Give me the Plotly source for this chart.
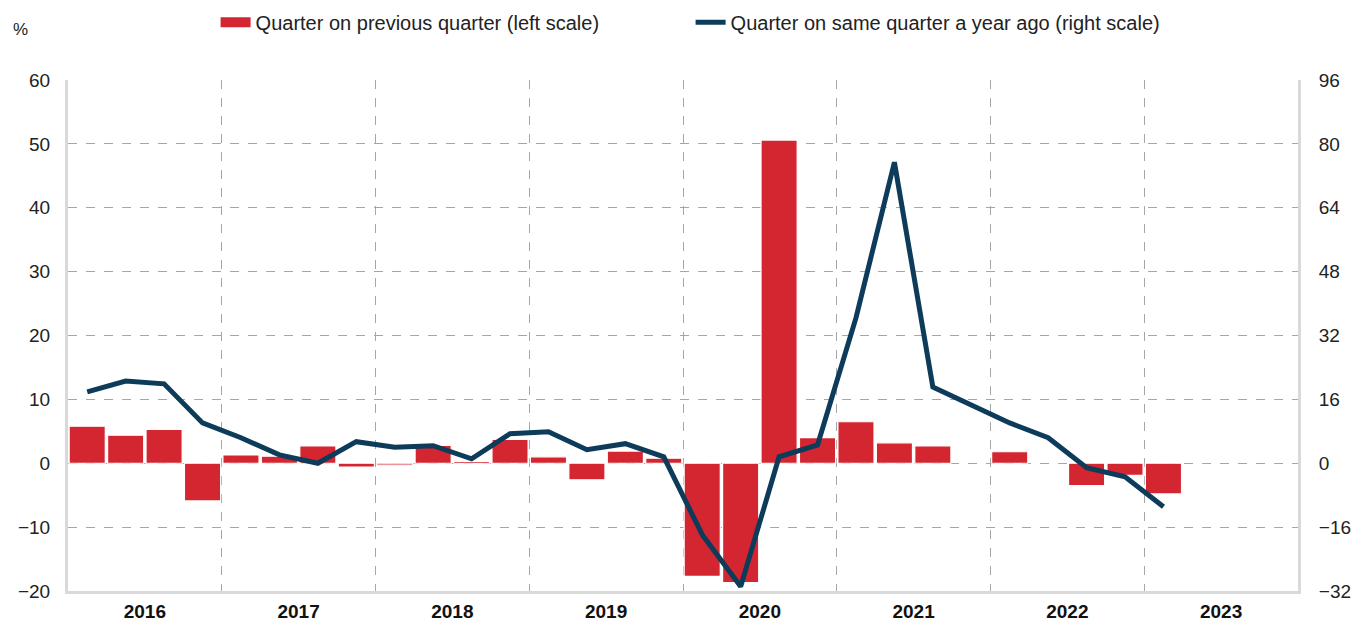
import plotly.graph_objects as go

years = ["2016", "2017", "2018", "2019", "2020", "2021", "2022", "2023"]
quarters_per_year = 4

# Quarter on previous quarter (%), left scale; None = no bar
qoq = [5.8, 4.4, 5.3, -5.9,
       1.3, 1.1, 2.7, -0.6,
       -0.3, 2.8, 0.3, 3.75,
       1.0, -2.6, 1.9, 0.8,
       -17.7, -18.7, 50.6, 4.0,
       6.5, 3.2, 2.7, None,
       1.8, None, -3.5, -1.9,
       -4.8]

# Quarter on same quarter a year ago (%), right scale
yoy = [17.9, 20.6, 19.9, 10.1,
       6.4, 2.1, 0.0, 5.4,
       4.0, 4.4, 1.1, 7.4,
       7.9, 3.4, 4.9, 1.6,
       -17.9, -30.9, 1.6, 4.6,
       36.4, 75.4, 19.1, 14.6,
       10.1, 6.4, -1.1, -3.4,
       -10.9]

left_ticks = [-20, -10, 0, 10, 20, 30, 40, 50, 60]
right_ticks = [-32, -16, 0, 16, 32, 48, 64, 80, 96]

RED = "#d32630"
NAVY = "#0d3b5a"
FONT = "Liberation Sans Narrow, Arial Narrow, Liberation Sans, Arial, sans-serif"

xq = list(range(len(qoq)))
n_quarters = len(years) * quarters_per_year
year_centers = [i * quarters_per_year + 1.5 for i in range(len(years))]
year_bounds = [i * quarters_per_year - 0.5 for i in range(1, len(years))]

fig = go.Figure()
fig.add_trace(go.Bar(
    x=xq, y=qoq, name="Quarter on previous quarter (left scale)",
    marker=dict(color=RED, line=dict(color="white", width=1.2)),
    yaxis="y", showlegend=False,
))
# legend proxy for the bars (wide red key as in the reference)
fig.add_trace(go.Scatter(
    x=[None], y=[None], name="Quarter on previous quarter (left scale)",
    mode="lines", line=dict(color=RED, width=10), yaxis="y", showlegend=True,
))
fig.add_trace(go.Scatter(
    x=xq, y=yoy, name="Quarter on same quarter a year ago (right scale)",
    mode="lines", line=dict(color=NAVY, width=5), yaxis="y2",
))

fig.update_layout(
    width=1354, height=627,
    margin=dict(l=68, r=56, t=80, b=36, autoexpand=False),
    plot_bgcolor="white", paper_bgcolor="white",
    font=dict(family=FONT, size=19, color="#222222"),
    bargap=0.06,
    showlegend=True,
    legend=dict(orientation="h", x=0.12, xanchor="left", y=1.113, yanchor="middle",
                yref="paper", font=dict(size=20, family=FONT, color="#222222"),
                entrywidth=430, entrywidthmode="pixels",
                tracegroupgap=0, bgcolor="rgba(0,0,0,0)"),
    xaxis=dict(
        range=[-0.5, n_quarters - 0.5], automargin=False,
        tickmode="array", tickvals=year_centers, ticktext=years,
        tickfont=dict(size=19, family=FONT, color="#111111", weight="bold"),
        showgrid=False, zeroline=False,
        showline=True, linecolor="#d9d9d9", linewidth=3,
        ticks="", ticklabelstandoff=1,
        minor=dict(tickmode="array", tickvals=year_bounds, showgrid=True,
                   gridcolor="#a6a6a6", griddash="dash", gridwidth=1, ticks=""),
    ),
    yaxis=dict(
        range=[-20, 60], tickmode="array", tickvals=left_ticks, automargin=False,
        showgrid=True, gridcolor="#a6a6a6", griddash="dash", gridwidth=1,
        zeroline=False, showline=True, linecolor="#d9d9d9", linewidth=3,
        ticks="", ticklabelstandoff=11,
    ),
    yaxis2=dict(
        range=[-32, 96], tickmode="array", tickvals=right_ticks, automargin=False,
        overlaying="y", side="right", showgrid=False, zeroline=False,
        showline=True, linecolor="#d9d9d9", linewidth=3,
        ticks="", ticklabelstandoff=14,
    ),
    annotations=[dict(text="%", xref="paper", yref="paper", x=-0.046, y=1.098,
                      xanchor="left", yanchor="middle", showarrow=False,
                      font=dict(size=17, family=FONT))],
)

fig.write_html(
    "out.html",
    config={"displayModeBar": False},
    post_script="document.body.style.margin='0';document.body.style.overflow='hidden';",
)
